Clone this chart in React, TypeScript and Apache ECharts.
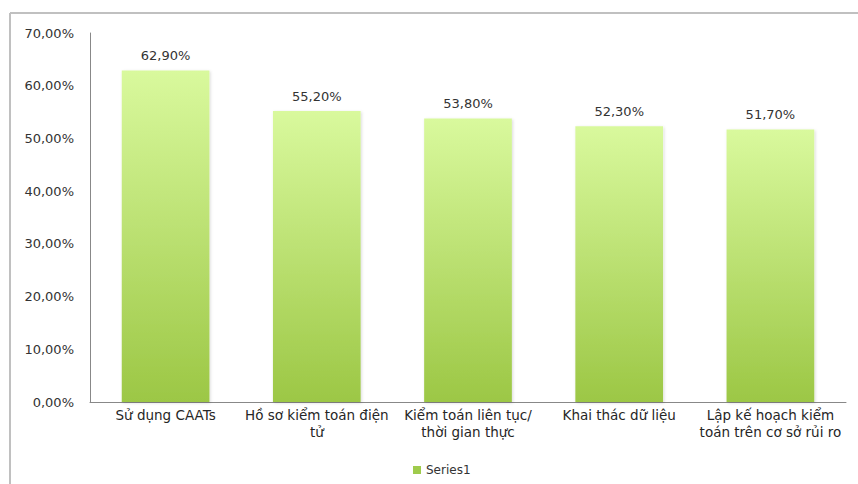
import React, { useEffect, useRef } from "react";
import * as echarts from "echarts";

const categories = [
  "Sử dụng CAATs",
  "Hồ sơ kiểm toán điện\ntử",
  "Kiểm toán liên tục/\nthời gian thực",
  "Khai thác dữ liệu",
  "Lập kế hoạch kiểm\ntoán trên cơ sở rủi ro",
];
const series1 = [62.9, 55.2, 53.8, 52.3, 51.7];
const yTicks = { min: 0, max: 70, interval: 10 };

const FONT = "DejaVu Sans";
const fmt = (v: number) => v.toFixed(2).replace(".", ",") + "%";

export default function App() {
  const ref = useRef<HTMLDivElement>(null);
  useEffect(() => {
    const chart = echarts.init(ref.current!, undefined, { renderer: "svg" });
    chart.setOption({
      animation: false,
      backgroundColor: "#ffffff",
      textStyle: { fontFamily: FONT },
      grid: { left: 90, right: 12, top: 33, bottom: 82, containLabel: false },
      graphic: [
        { type: "line", shape: { x1: 10, y1: 13, x2: 858, y2: 13 }, style: { stroke: "#c0c0c0", lineWidth: 2 } },
        { type: "line", shape: { x1: 10, y1: 13, x2: 10, y2: 484 }, style: { stroke: "#c0c0c0", lineWidth: 2 } },
      ],
      legend: {
        left: 408,
        top: 459,
        itemWidth: 8,
        itemHeight: 8,
        itemGap: 10,
        icon: "rect",
        textStyle: { fontFamily: FONT, fontSize: 12, color: "#333333" },
        data: [{ name: "Series1", itemStyle: { color: "#9fcb4c" } }],
      },
      xAxis: {
        type: "category",
        data: categories,
        axisLine: { lineStyle: { color: "#888888", width: 1 } },
        axisTick: { show: false },
        axisLabel: {
          interval: 0,
          margin: 4,
          fontFamily: FONT,
          fontSize: 13.5,
          lineHeight: 17,
          color: "#262626",
        },
      },
      yAxis: {
        type: "value",
        min: yTicks.min,
        max: yTicks.max,
        interval: yTicks.interval,
        axisLine: { show: true, lineStyle: { color: "#888888", width: 1 } },
        axisTick: { show: false },
        splitLine: { show: false },
        axisLabel: {
          margin: 16,
          fontFamily: FONT,
          fontSize: 13,
          color: "#333333",
          formatter: (v: number) => fmt(v),
        },
      },
      series: [
        {
          name: "Series1",
          type: "bar",
          data: series1,
          barCategoryGap: "42%",
          itemStyle: {
            color: new echarts.graphic.LinearGradient(0, 0, 0, 1, [
              { offset: 0, color: "#d9f99d" },
              { offset: 1, color: "#9cc745" },
            ]),
            shadowColor: "rgba(0,0,0,0.15)",
            shadowBlur: 3,
            shadowOffsetX: 1,
            shadowOffsetY: 1,
          },
          label: {
            show: true,
            position: "top",
            distance: 8,
            fontFamily: FONT,
            fontSize: 13,
            color: "#333333",
            formatter: (p: any) => fmt(p.value),
          },
        },
      ],
    });
    return () => chart.dispose();
  }, []);
  return (
    <div
      ref={ref}
      style={{ position: "fixed", left: 0, top: 0, width: 858, height: 484 }}
    />
  );
}
